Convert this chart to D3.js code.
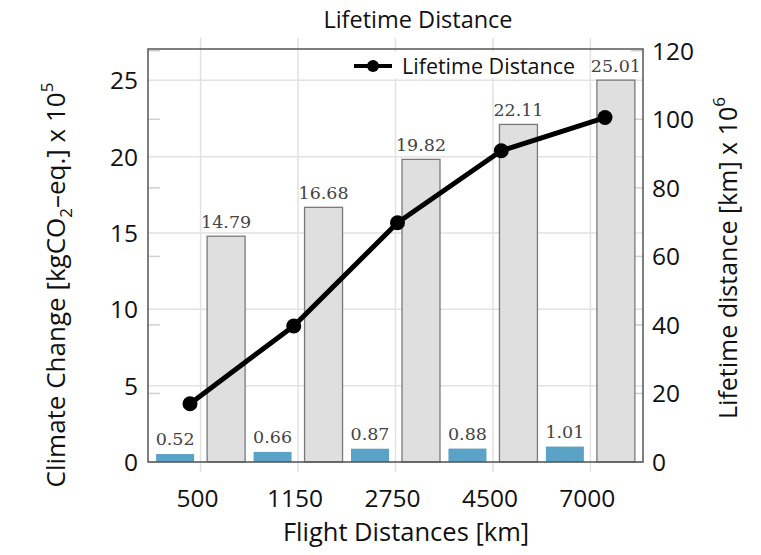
<!DOCTYPE html>
<html>
<head>
<meta charset="utf-8">
<script src="https://cdn.jsdelivr.net/npm/d3@7"></script>
<style>
  body { margin: 0; background: #fff; }
  text { font-family: "Open Sans", "Noto Sans", sans-serif; fill: #111; }
  .lbl { font-family: "DejaVu Serif", "Liberation Serif", serif; fill: #444; }
</style>
</head>
<body>
<svg id="chart" width="761" height="555"></svg>
<script>
// data
const distances = ["500", "1150", "2750", "4500", "7000"];
const climateSmall = [0.52, 0.66, 0.87, 0.88, 1.01];
const climateTotal = [14.79, 16.68, 19.82, 22.11, 25.01];
const lifetimeDist = [17.0, 39.7, 69.8, 90.8, 100.5];
const leftTicks = [0, 5, 10, 15, 20, 25];
const rightTicks = [0, 20, 40, 60, 80, 100, 120];

var svg = d3.select("#chart");
var pLeft = 148, pRight = 643, pTop = 49, pBottom = 462;

var x = d3.scalePoint().domain(distances).range([pLeft, pRight]).padding(0.54);
var xLine = d3.scalePoint().domain(distances).range([190, 605]);
var y = d3.scaleLinear().domain([0, 27.05]).range([pBottom, pTop]);
var y2 = d3.scaleLinear().domain([0, 120.5]).range([pBottom, pTop]);

var barW = 38, off = 25.5;

// grid
svg.append("g").selectAll("line").data(leftTicks).enter().append("line")
  .attr("x1", pLeft).attr("x2", pRight)
  .attr("y1", d => y(d)).attr("y2", d => y(d))
  .attr("stroke", "#e2e2e2").attr("stroke-width", 1.5);
svg.append("g").selectAll("line").data(distances).enter().append("line")
  .attr("x1", d => x(d)).attr("x2", d => x(d))
  .attr("y1", pTop - 11).attr("y2", pBottom + 10)
  .attr("stroke", "#e2e2e2").attr("stroke-width", 1.5);
// right axis tick stubs
rightTicks.forEach(function(t) {
  svg.append("line").attr("x1", pLeft).attr("x2", pLeft + 12).attr("y1", y2(t)).attr("y2", y2(t))
    .attr("stroke", "#d0d0d0").attr("stroke-width", 1.5);
  svg.append("line").attr("x1", pRight - 12).attr("x2", pRight).attr("y1", y2(t)).attr("y2", y2(t))
    .attr("stroke", "#d0d0d0").attr("stroke-width", 1.5);
});

// bars
svg.selectAll(".small").data(climateSmall).enter().append("rect").attr("class", "small")
  .attr("x", (d, i) => x(distances[i]) - off - barW / 2).attr("width", barW)
  .attr("y", d => y(d)).attr("height", d => pBottom - y(d))
  .attr("fill", "#5ba3c6");
svg.selectAll(".total").data(climateTotal).enter().append("rect").attr("class", "total")
  .attr("x", (d, i) => x(distances[i]) + off - barW / 2).attr("width", barW)
  .attr("y", d => y(d)).attr("height", d => pBottom - y(d))
  .attr("fill", "#dfdfdf").attr("stroke", "#7a7a7a").attr("stroke-width", 1.3);

// bar labels
svg.selectAll(".ls").data(climateSmall).enter().append("text").attr("class", "lbl")
  .attr("x", (d, i) => x(distances[i]) - off).attr("y", d => y(d) - 9)
  .attr("text-anchor", "middle").style("font-size", "17.5px").text(d => d.toFixed(2));
svg.selectAll(".lt").data(climateTotal).enter().append("text").attr("class", "lbl")
  .attr("x", (d, i) => x(distances[i]) + off).attr("y", d => y(d) - 8)
  .attr("text-anchor", "middle").style("font-size", "17.5px").text(d => d.toFixed(2));

// frame
svg.append("rect").attr("x", pLeft).attr("y", pTop).attr("width", pRight - pLeft).attr("height", pBottom - pTop)
  .attr("fill", "none").attr("stroke", "#555").attr("stroke-width", 1.5);

// line
var line = d3.line().x((d, i) => xLine(distances[i])).y(d => y2(d));
svg.append("path").datum(lifetimeDist).attr("d", line)
  .attr("fill", "none").attr("stroke", "#000").attr("stroke-width", 5).attr("stroke-linejoin", "round");
svg.selectAll(".dot").data(lifetimeDist).enter().append("circle")
  .attr("cx", (d, i) => xLine(distances[i])).attr("cy", d => y2(d)).attr("r", 7.5).attr("fill", "#000");

// legend
svg.append("rect").attr("x", 347).attr("y", 52).attr("width", 240).attr("height", 26).attr("fill", "#fff");
svg.append("line").attr("x1", 354).attr("x2", 392).attr("y1", 66).attr("y2", 66).attr("stroke", "#000").attr("stroke-width", 4);
svg.append("circle").attr("cx", 373).attr("cy", 66).attr("r", 6).attr("fill", "#000");
svg.append("text").attr("x", 402).attr("y", 74).style("font-size", "21.5px").text("Lifetime Distance");

// axes tick labels
svg.selectAll(".yt").data(leftTicks).enter().append("text")
  .attr("x", 138).attr("y", d => y(d) + 9).attr("text-anchor", "end").style("font-size", "24.5px").text(d => d);
svg.selectAll(".y2t").data(rightTicks).enter().append("text")
  .attr("x", 652).attr("y", d => y2(d) + 9).style("font-size", "24.5px").text(d => d);
svg.selectAll(".xt").data(distances).enter().append("text")
  .attr("x", d => x(d) - 3).attr("y", 507).attr("text-anchor", "middle").style("font-size", "24.5px").text(d => d);

// titles
svg.append("text").attr("x", 418).attr("y", 28).attr("text-anchor", "middle").style("font-size", "23.5px").text("Lifetime Distance");
svg.append("text").attr("x", 406).attr("y", 541).attr("text-anchor", "middle").style("font-size", "25.5px").text("Flight Distances [km]");

var yl = svg.append("text").attr("transform", "translate(65,285) rotate(-90)").attr("text-anchor", "middle").style("font-size", "26px");
yl.append("tspan").text("Climate Change [kgCO");
yl.append("tspan").attr("dy", 7).style("font-size", "17px").text("2");
yl.append("tspan").attr("dy", -7).text("\u2013eq.] x 10");
yl.append("tspan").attr("dy", -12).style("font-size", "17px").text("5");

var yr = svg.append("text").attr("transform", "translate(737,258) rotate(-90)").attr("text-anchor", "middle").style("font-size", "25px");
yr.append("tspan").text("Lifetime distance [km] x 10");
yr.append("tspan").attr("dy", -12).style("font-size", "17px").text("6");
</script>
</body>
</html>
